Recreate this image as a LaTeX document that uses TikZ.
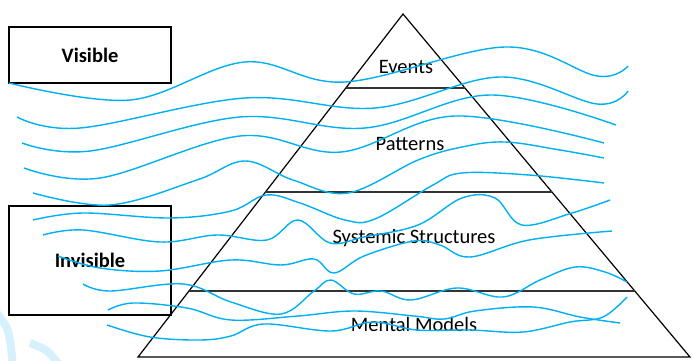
\documentclass[tikz,border=0pt]{standalone}
\usepackage{fontspec}
\setmainfont{Carlito}
\usetikzlibrary{calc}
\definecolor{wave}{HTML}{00B0F0}
\definecolor{wmark}{RGB}{214,240,252}
\tikzstyle{sidebox}=[draw,line width=1.2pt,inner sep=0pt,font=\fontsize{20.5}{24}\selectfont\bfseries]
\tikzstyle{water}=[wave,line width=1.4pt,smooth,tension=0.6]

\begin{document}
\begin{tikzpicture}[x=1pt,y=-1pt]
		\tikzstyle{level}=[inner sep=0pt,anchor=base,font=\fontsize{20.5}{24}\selectfont]
		\useasboundingbox (0,0) rectangle (693,361);
		
		\draw[wmark,line width=8pt] plot[smooth] coordinates {(-4,312) (8,331) (13,366)};
		\draw[wmark,line width=8pt] plot[smooth] coordinates {(30,343) (47,351) (60,366)};
		
		\node[sidebox,minimum width=162pt,minimum height=56pt] (vis) at (90,55) {Visible};
		\node[sidebox,minimum width=162pt,minimum height=109pt] (invis) at (90,260.5) {Invisible};
		
		\coordinate (top) at (403,14);
		\coordinate (bl) at (138,357);
		\coordinate (br) at (690,357);
		\draw[line width=1.2pt] (top) -- (bl) -- (br) -- cycle;
		\draw[line width=1.5pt,black!80] ($(top)!0.2157!(bl)$) -- ($(top)!0.2157!(br)$);
		\draw[line width=1.5pt,black!80] ($(top)!0.519!(bl)$) -- ($(top)!0.519!(br)$);
		\draw[line width=1.5pt,black!80] ($(top)!0.8076!(bl)$) -- ($(top)!0.8076!(br)$);
		
		\node[level] (ev) at (406,74) {Events};
		\node[level] (pa) at (410,150) {Patterns};
		\node[level] (ss) at (414,243) {Systemic Structures};
		\node[level] (mm) at (414,331) {Mental Models};
		
		\draw[water] plot coordinates {(9,83) (130,100) (245,62) (345,82) (505,47) (597,76) (628,66)};
		\draw[water] plot coordinates {(17,117) (80,128) (245,98) (375,108) (500,77) (597,104) (628,91)};
		\draw[water] plot coordinates {(22,143) (90,151) (240,117) (365,128) (490,95) (616,125)};
		\draw[water] plot coordinates {(24,168) (100,178) (240,136) (341,152) (455,116) (604,143)};
		\draw[water] plot coordinates {(33,193) (110,205) (197,180) (245,161) (293,180) (348,193) (418,160) (462,147) (505,142) (560,150) (604,158)};
		\draw[water] plot coordinates {(33,220) (83,213) (170,218) (231,211) (266,195) (300,203) (345,220) (375,219) (433,185) (462,173) (529,175) (604,183)};
		\draw[water] plot coordinates {(43,235) (83,230) (160,242) (217,235) (267,240) (298,220) (330,243) (364,237) (418,225) (462,198) (495,198) (522,225) (572,213) (610,200)};
		\draw[water] plot coordinates {(58,256) (100,268) (160,271) (231,260) (281,265) (314,259) (334,273) (364,256) (414,241) (440,245) (470,257) (529,240) (612,231)};
		\draw[water] plot coordinates {(83,284) (110,291) (183,284) (231,302) (281,314) (314,291) (331,280) (354,294) (381,291) (411,300) (457,288) (503,297) (540,280) (575,267) (605,272) (627,282)};
		\draw[water] plot coordinates {(108,310) (133,303) (187,308) (231,320) (298,316) (354,311) (414,316) (444,319) (475,311) (533,307) (580,317) (620,323)};
		\draw[water] plot coordinates {(107,325) (150,337) (200,340) (231,336) (264,324) (331,331) (373,322) (417,330) (470,330) (523,332) (570,322) (603,317) (627,297)};
		\end{tikzpicture}
\end{document}
